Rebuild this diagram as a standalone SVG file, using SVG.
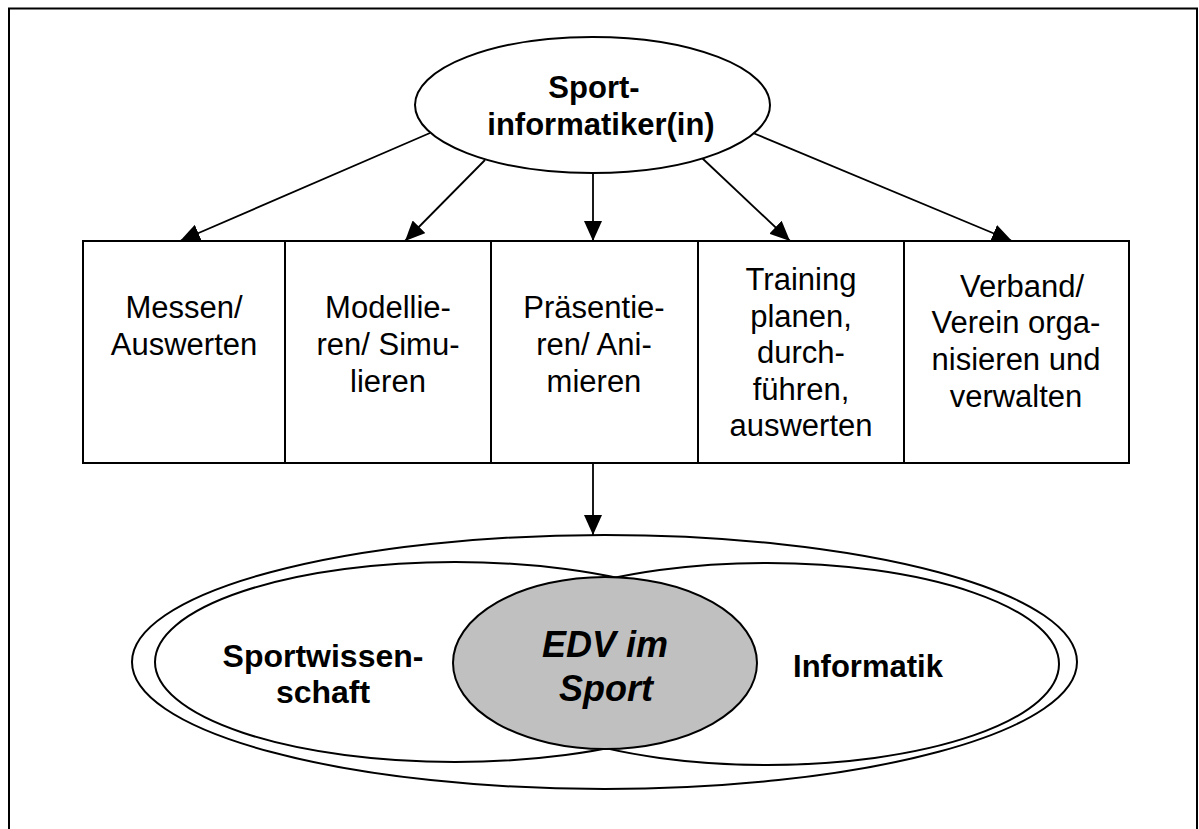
<svg xmlns="http://www.w3.org/2000/svg" width="1199" height="829" viewBox="0 0 1199 829">
<defs>
<marker id="ah" markerWidth="20" markerHeight="18" refX="20" refY="9" orient="auto" markerUnits="userSpaceOnUse">
<path d="M0,0 L20,9 L0,18 Z" fill="#000"/>
</marker>
<style>
.ln{stroke:#000;stroke-width:1.8;fill:none}
.box{stroke:#000;stroke-width:2;fill:#fff}
.el{stroke:#000;stroke-width:2;fill:none}
.t{font-family:"Liberation Sans",Arial,sans-serif;font-size:31px;fill:#000;text-anchor:middle}
.b{font-weight:bold}
.bb{font-weight:bold;font-size:32px}
.bi{font-weight:bold;font-style:italic;font-size:36px}
</style>
</defs>
<rect width="1199" height="829" fill="#fff"/>
<path d="M9,840 V8.5 H1197 V840" fill="none" stroke="#000" stroke-width="2"/>

<g id="connectors">
<line class="ln" x1="430" y1="133" x2="180" y2="241" marker-end="url(#ah)"/>
<line class="ln" x1="485" y1="160" x2="405" y2="241" marker-end="url(#ah)"/>
<line class="ln" x1="593" y1="173" x2="593" y2="241" marker-end="url(#ah)"/>
<line class="ln" x1="702" y1="158" x2="790" y2="241" marker-end="url(#ah)"/>
<line class="ln" x1="753" y1="133" x2="1012" y2="241" marker-end="url(#ah)"/>
<line class="ln" x1="593" y1="463" x2="593" y2="535" marker-end="url(#ah)"/>
</g>

<g id="top">
<ellipse cx="592.5" cy="105" rx="177.5" ry="68" fill="#fff" stroke="#000" stroke-width="2"/>
<text class="t b" x="594" y="98">Sport-</text>
<text class="t b" x="601" y="135">informatiker(in)</text>
</g>

<g id="box1">
<rect class="box" x="83" y="241" width="202" height="222"/>
<text class="t" x="184" y="318">Messen/</text>
<text class="t" x="184" y="355">Auswerten</text>
</g>
<g id="box2">
<rect class="box" x="285" y="241" width="206" height="222"/>
<text class="t" x="388" y="318">Modellie-</text>
<text class="t" x="388" y="355">ren/ Simu-</text>
<text class="t" x="388" y="392">lieren</text>
</g>
<g id="box3">
<rect class="box" x="491" y="241" width="207" height="222"/>
<text class="t" x="594" y="318">Präsentie-</text>
<text class="t" x="594" y="355">ren/ Ani-</text>
<text class="t" x="594" y="392">mieren</text>
</g>
<g id="box4">
<rect class="box" x="698" y="241" width="206" height="222"/>
<text class="t" x="801" y="290">Training</text>
<text class="t" x="801" y="327">planen,</text>
<text class="t" x="801" y="363">durch-</text>
<text class="t" x="801" y="400">führen,</text>
<text class="t" x="801" y="436">auswerten</text>
</g>
<g id="box5">
<rect class="box" x="904" y="241" width="225" height="222"/>
<text class="t" x="1022" y="297">Verband/</text>
<text class="t" x="1016" y="333">Verein orga-</text>
<text class="t" x="1016" y="370">nisieren und</text>
<text class="t" x="1016" y="407">verwalten</text>
</g>

<g id="outer">
<ellipse class="el" cx="604.5" cy="662" rx="472.5" ry="127"/>
</g>
<g id="sportwissenschaft">
<ellipse class="el" cx="455" cy="662" rx="300" ry="100"/>
<text class="t bb" x="323" y="667">Sportwissen-</text>
<text class="t bb" x="323" y="703">schaft</text>
</g>
<g id="informatik">
<ellipse class="el" cx="767" cy="664" rx="292" ry="101"/>
<text class="t b" x="868" y="677">Informatik</text>
</g>
<g id="edv">
<ellipse cx="605" cy="663" rx="152" ry="86" fill="#c0c0c0" stroke="#000" stroke-width="2"/>
<text class="t bi" x="605" y="657">EDV im</text>
<text class="t bi" x="606" y="701">Sport</text>
</g>
</svg>
